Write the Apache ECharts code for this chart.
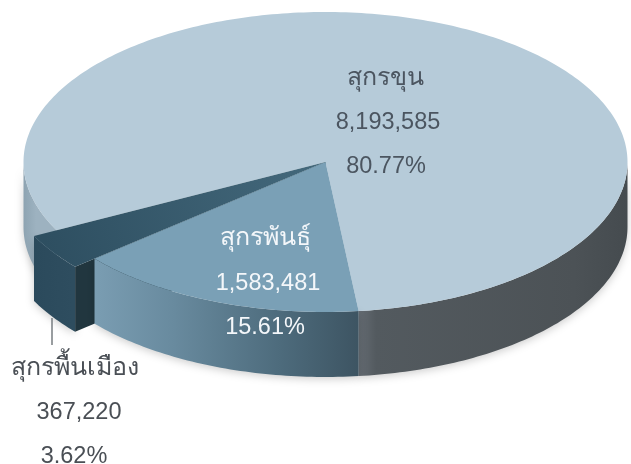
<!DOCTYPE html>
<html>
<head>
<meta charset="utf-8">
<style>
  html, body { margin: 0; padding: 0; background: #fff; }
  #chart { width: 631px; height: 464px; }
</style>
<script src="https://cdn.jsdelivr.net/npm/echarts@6/dist/echarts.min.js"></script>
</head>
<body>
<div id="chart"></div>
<script>
  // values
  var categories = ['สุกรขุน', 'สุกรพันธุ์', 'สุกรพื้นเมือง'];
  var headcount = [8193585, 1583481, 367220];
  var percents = [80.77, 15.61, 3.62];

  // the tilted disc
  var cx = 325.5, cy = 162, rx = 302, ry = 150, depth = 65;
  var startDeg = 83.7;            // where the first slice clockwise begins, at the front edge
  var clockwise = [1, 2, 0];      // order of the slices going clockwise from startDeg

  function grad(x0, y0, x1, y1, stops) {
    return new echarts.graphic.LinearGradient(x0, y0, x1, y1, stops.map(function (s) {
      return { offset: s[0], color: s[1] };
    }), true);
  }

  var looks = [
    {
      top: '#b6cbd9', scale: 1, z: 1,
      walls: [
        grad(23, 0, 36, 0, [[0, '#8da3b1'], [1, '#9db2c0']]),
        grad(360, 0, 628, 0, [[0, '#646b72'], [0.06, '#535a5f'], [0.8, '#4c5256'], [1, '#454b4f']])
      ],
      text: '#4b5560', at: [[385, 78], [388, 121], [386, 165]]
    },
    {
      top: '#7aa0b6', scale: 1, z: 5,
      walls: [
        grad(95, 0, 360, 0, [[0, '#7a9db2'], [0.3, '#688a9e'], [0.7, '#4d6b7c'], [1, '#3d5462']])
      ],
      text: '#f4f7fa', at: [[265, 238], [268, 282], [265, 326]]
    },
    {
      top: grad(325, 162, 50, 255, [[0, '#44697c'], [1, '#2e4f61']]), scale: 1.084, z: 3,
      walls: [grad(35, 0, 72, 0, [[0, '#2b4a5c'], [1, '#2e4d5f']])],
      side: '#21363f',
      text: '#4a4f55', at: [[75, 368], [79, 411], [74, 455]]
    }
  ];

  function px(deg, k, drop) {
    var a = deg * Math.PI / 180;
    return [cx + rx * k * Math.cos(a), cy + ry * k * Math.sin(a) + (drop || 0)];
  }

  function arc(a, b, k, drop) {
    var out = [];
    var n = Math.max(2, Math.ceil(Math.abs(b - a)));
    for (var i = 0; i <= n; i++) {
      out.push(px(a + (b - a) * i / n, k, drop));
    }
    return out;
  }

  // parts of a sweep that lie on the front half of the disc
  function frontParts(a, b) {
    var out = [];
    [[0, 180], [360, 540]].forEach(function (h) {
      var s = Math.max(a, h[0]), e = Math.min(b, h[1]);
      if (e > s) out.push([s, e]);
    });
    return out;
  }

  // start and end angle of a slice, from the values
  function sweepOf(index) {
    var total = headcount.reduce(function (m, v) { return m + v; }, 0);
    var a = startDeg;
    for (var k = 0; k < clockwise.length; k++) {
      var b = a + headcount[clockwise[k]] / total * 360;
      if (clockwise[k] === index) return [a, b];
      a = b;
    }
  }

  function renderItem(params, api) {
    var i = params.dataIndex;
    var sweep = sweepOf(i), a = sweep[0], b = sweep[1];
    var look = looks[i];
    var kids = [];
    frontParts(a, b).forEach(function (p, n) {
      var pts = arc(p[0], p[1], look.scale, 0).concat(arc(p[1], p[0], look.scale, depth));
      kids.push({
        type: 'polygon', z2: look.z, shape: { points: pts },
        style: {
          fill: look.walls[n],
          shadowBlur: 8, shadowColor: 'rgba(0,0,0,0.2)', shadowOffsetY: 2
        }
      });
    });
    if (look.side) {
      var e = px(a, look.scale, 0), f = px(a, look.scale, depth);
      kids.push({
        type: 'polygon', z2: look.z, shape: { points: [[cx, cy], e, f, [cx, cy + depth]] },
        style: { fill: look.side }
      });
    }
    kids.push({
      type: 'polygon', z2: look.z + 1,
      shape: { points: [[cx, cy]].concat(arc(a, b, look.scale, 0)) },
      style: { fill: look.top }
    });

    var lines = [categories[i], api.value(0).toLocaleString('en-US'), percents[i].toFixed(2) + '%'];
    lines.forEach(function (t, n) {
      kids.push({
        type: 'text', z2: 20, x: look.at[n][0], y: look.at[n][1] + (n === 0 ? 0 : 2),
        style: {
          text: t, fill: look.text, align: 'center', verticalAlign: 'middle',
          font: (n === 0 ? '25px' : '23.5px') + ' "Liberation Sans", "Noto Sans", sans-serif'
        }
      });
    });
    return { type: 'group', children: kids };
  }

  var myChart = echarts.init(document.getElementById('chart'));
  myChart.setOption({
    backgroundColor: '#fff',
    animation: false,
    series: [{
      type: 'custom',
      coordinateSystem: 'none',
      data: headcount,
      renderItem: renderItem,
      silent: true
    }],
    graphic: [{
      type: 'line', z: 10,
      shape: { x1: 52, y1: 318, x2: 52, y2: 345 },
      style: { stroke: '#777c80', lineWidth: 1.5 }
    }]
  });
</script>
</body>
</html>
